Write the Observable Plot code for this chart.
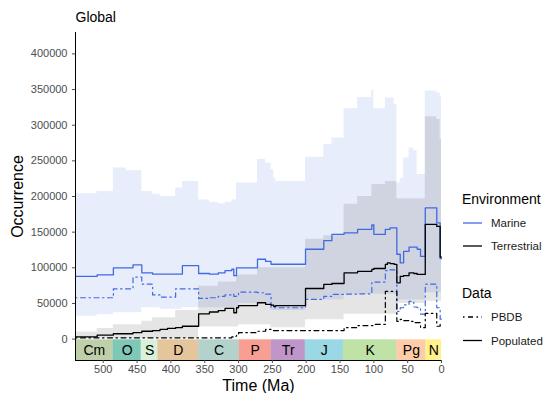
<!DOCTYPE html>
<html><head><meta charset="utf-8">
<script src="https://cdn.jsdelivr.net/npm/d3@7"></script>
<script src="https://cdn.jsdelivr.net/npm/@observablehq/plot@0.6"></script>
<style>body{margin:0;background:#fff} svg{display:block}</style>
</head><body><div id="chart"></div>
<script>
// Bin boundaries (Ma), oldest to youngest; each value applies from its boundary to the next
const binStart = [541,509,485,466,456,443,427,416,405,393,383,359,343,330,320,310,307,303,300,272,260,252,248,245,201,174,162,144,124,103,100,83,80,76,70,66,61,56,48,41,36,31,24,7,2,0];

// Marine, populated (solid blue)
const marinePopulated = [88000,90000,100000,100000,104000,93000,91000,91000,91000,91000,103000,92000,91000,93000,96000,98000,89000,100000,100000,112000,109000,105000,105000,105000,126000,138000,147000,149000,154000,160000,147000,154000,154000,156000,156000,119000,107000,123000,129000,129000,126000,116000,184000,163000,113000];
// Marine, PBDB (dot-dash blue)
const marinePBDB = [58000,58000,70500,70500,87000,77000,62000,59000,59000,70500,70500,57000,58000,60000,62000,63000,60000,62000,66000,65000,63000,44000,44000,44000,55600,60000,62700,63000,63500,79000,80000,96000,97000,97000,97000,39000,44000,48000,53000,45000,44000,35000,77000,44000,28000];
// Terrestrial, populated (solid black)
const terrPopulated = [3000,5600,7500,7500,9000,11000,12000,13600,15000,16000,18000,35500,38000,40000,43000,43000,37000,44000,47000,51000,48600,47700,46000,47000,71000,76700,78000,93000,95000,97700,99000,104700,107000,106000,104700,79000,88000,89000,93000,92000,90700,90700,161000,158000,115000];
// Terrestrial, PBDB (dot-dash black)
const terrPBDB = [1800,1800,1800,1800,1800,1800,1800,1800,1800,1800,1800,1800,1800,1800,1800,3000,4000,5600,9000,11000,13600,12000,12000,12000,12000,12000,12000,16000,19000,19000,20600,67000,67000,67000,67000,25000,27600,26000,25000,23000,23000,16000,36000,18000,21000];
// Uncertainty ribbons
const marineLow = [32000,34000,37000,37000,37000,44000,44000,42000,42000,42000,44000,44000,44000,44000,44000,44000,44000,44000,50000,50000,50000,40000,40000,40000,55000,55000,55000,63000,63000,63000,63000,63000,63000,63000,63000,55000,55000,55000,55000,55000,55000,55000,65000,65000,65000];
const marineHigh = [204000,207000,240000,236000,236000,207000,203000,200000,200000,212000,221000,195000,192000,190000,192000,195000,195000,219000,219000,252000,247000,238000,226000,221000,255000,273000,282000,323000,339000,349000,323000,338000,338000,338000,329000,219000,225000,254000,268000,264000,231000,231000,348000,345000,340000];
const terrLow = [500,500,500,500,500,500,500,500,500,500,500,17000,17000,17000,17000,17000,17000,17000,20000,20000,20000,16000,16000,16000,27000,27000,27000,35000,35000,35000,35000,35000,35000,35000,35000,50000,50000,50000,50000,50000,50000,50000,53000,53000,53000];
const terrHigh = [10000,15000,20000,20000,20000,25000,30000,30000,30000,40000,40000,74000,74000,80000,80000,80000,80000,90000,90000,100000,100000,100000,100000,100000,140000,145000,145000,189000,200000,217000,217000,221000,221000,221000,221000,197000,197000,197000,197000,197000,197000,197000,312000,308000,280000];

// Geological periods
const periodNames = ["Cm","O","S","D","C","P","Tr","J","K","Pg","N"];
const periodStart = [541,485.4,443.8,419.2,358.9,298.9,251.9,201.3,145,66,23.03];
const periodEnd   = [485.4,443.8,419.2,358.9,298.9,251.9,201.3,145,66,23.03,0];
const periodColor = ["#7FA056","#009270","#B3E1B6","#CB8C37","#67A599","#F04028","#812B92","#34B2C9","#7FC64E","#FD9A52","#FFE619"];

const yTicks = [0,50000,100000,150000,200000,250000,300000,350000,400000];
const xTicks = [500,450,400,350,300,250,200,150,100,50,0];

const rows = binStart.map((t, i) => {
  const j = Math.min(i, marinePopulated.length - 1);
  return {t, marinePopulated: marinePopulated[j], marinePBDB: marinePBDB[j],
    terrPopulated: terrPopulated[j], terrPBDB: terrPBDB[j],
    marineLow: marineLow[j], marineHigh: marineHigh[j], terrLow: terrLow[j], terrHigh: terrHigh[j]};
});
const periods = periodNames.map((name, i) => ({name, start: periodStart[i], end: periodEnd[i], color: periodColor[i], mid: (periodStart[i] + periodEnd[i]) / 2}));

const FONT = "'Liberation Sans', Arial, Helvetica, sans-serif";
const BLUE = "#4169E1";
const DASH = "1.5,3.5,5,3.5";

const plot = Plot.plot({
  width: 555, height: 393,
  marginLeft: 75, marginRight: 114, marginTop: 32, marginBottom: 33,
  style: {fontFamily: FONT, background: "#fff", overflow: "visible"},
  x: {domain: [541, 0], axis: null},
  y: {domain: [-30000, 430000], axis: null},
  marks: [
    Plot.areaY(rows, {x: "t", y1: "marineLow", y2: "marineHigh", curve: "step-after", fill: BLUE, fillOpacity: 0.12}),
    Plot.areaY(rows, {x: "t", y1: "terrLow", y2: "terrHigh", curve: "step-after", fill: "#000", fillOpacity: 0.1}),
    Plot.line(rows, {x: "t", y: "marinePBDB", curve: "step-after", stroke: BLUE, strokeWidth: 1.2, strokeDasharray: DASH}),
    Plot.line(rows, {x: "t", y: "terrPBDB", curve: "step-after", stroke: "#000", strokeWidth: 1.2, strokeDasharray: DASH}),
    Plot.line(rows, {x: "t", y: "marinePopulated", curve: "step-after", stroke: BLUE, strokeWidth: 1.3}),
    Plot.line(rows, {x: "t", y: "terrPopulated", curve: "step-after", stroke: "#000", strokeWidth: 1.3}),
    Plot.rect(periods, {x1: "start", x2: "end", y1: -30000, y2: -1000, fill: "color", fillOpacity: 0.5}),
    Plot.text(periods, {x: "mid", y: -15500, text: "name", fontSize: 14, fill: "#000"}),
    Plot.ruleX([541], {y1: -30000, y2: 430000, stroke: "#000", strokeWidth: 1}),
    Plot.ruleY([-30000], {x1: 541, x2: 0, stroke: "#000", strokeWidth: 1}),
    Plot.axisY({ticks: yTicks, tickFormat: d3.format("d"), tickSize: 3, tickPadding: 5, fontSize: 11, color: "#4D4D4D", label: null}),
    Plot.axisX({ticks: xTicks, tickFormat: d3.format("d"), tickSize: 3, tickPadding: 2, fontSize: 11, color: "#4D4D4D", label: null}),
    Plot.text(["Time (Ma)"], {frameAnchor: "bottom", dy: 25, lineAnchor: "middle", textAnchor: "middle", fontSize: 16, fill: "#000"}),
    Plot.text(["Occurrence"], {frameAnchor: "left", dx: -58, rotate: -90, textAnchor: "middle", lineAnchor: "middle", fontSize: 16, fill: "#000"}),
    Plot.text(["Global"], {frameAnchor: "top-left", dy: -15, textAnchor: "start", lineAnchor: "middle", fontSize: 14, fill: "#000"})
  ]
});

// Legend
const svg = d3.select(plot);
const leg = svg.append("g").attr("font-family", FONT).attr("text-anchor", "start");
const legendItems = [
  {type: "title", text: "Environment", y: 199},
  {type: "key", text: "Marine", y: 223, stroke: BLUE, dash: null},
  {type: "key", text: "Terrestrial", y: 246, stroke: "#000", dash: null},
  {type: "title", text: "Data", y: 293},
  {type: "key", text: "PBDB", y: 317, stroke: "#000", dash: DASH},
  {type: "key", text: "Populated", y: 340.5, stroke: "#000", dash: null}
];
for (const it of legendItems) {
  if (it.type === "title") {
    leg.append("text").attr("x", 462).attr("y", it.y).attr("dy", "0.35em").attr("text-anchor", "start").attr("font-size", 14).attr("fill", "#000").text(it.text);
  } else {
    leg.append("line").attr("x1", 463).attr("x2", 482).attr("y1", it.y).attr("y2", it.y)
      .attr("stroke", it.stroke).attr("stroke-width", 1.3).attr("stroke-dasharray", it.dash);
    leg.append("text").attr("x", 491).attr("y", it.y).attr("dy", "0.35em").attr("text-anchor", "start").attr("font-size", 11.5).attr("fill", "#1a1a1a").text(it.text);
  }
}
document.getElementById("chart").append(plot);
</script>
</body></html>
